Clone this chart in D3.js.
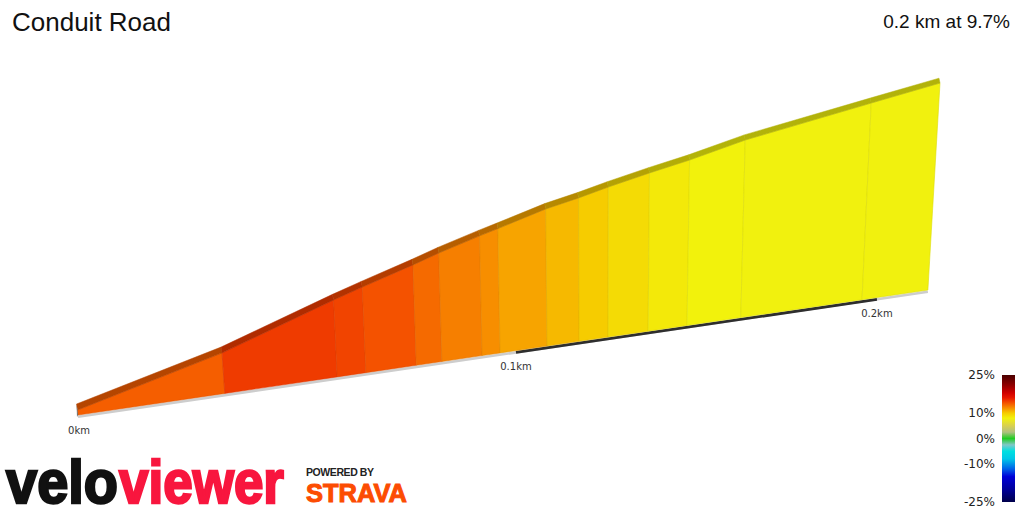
<!DOCTYPE html>
<html>
<head>
<meta charset="utf-8">
<script src="https://cdn.jsdelivr.net/npm/d3@7"></script>
<style>
  body { margin: 0; background: #fff; }
  svg { display: block; }
</style>
</head>
<body>
<svg width="1024" height="512"></svg>
<script>
'use strict'

// segment boundaries along the climb (km) and elevation at each (m)
const distKm = [0, 0.0313, 0.0567, 0.0634, 0.0754, 0.0816, 0.0915, 0.0960, 0.1079, 0.1162, 0.1238, 0.1345, 0.1451, 0.1601, 0.1955, 0.2157]
const elevM = [36.0, 39.1, 42.43, 43.26, 44.69, 45.49, 46.62, 47.1, 48.42, 49.12, 49.85, 50.78, 51.63, 53.04, 55.55, 56.97]
// gradient of each segment (%)
const gradePct = [13.6, 14.8, 14.5, 14.0, 13.2, 12.5, 12.0, 11.3, 10.6, 10.0, 9.2, 8.5, 8.0, 7.9, 7.9]

const kmTicks = [0, 0.1, 0.2]
const kmLabels = ['0km', '0.1km', '0.2km']

const legendTicks = [25, 10, 0, -10, -25]
const legendLabels = ['25%', '10%', '0%', '-10%', '-25%']

const gradeStops = [-25, -20, -15, -12, -8, -5, -2.5, 0, 2.5, 5, 8, 10, 12, 14, 16, 18, 21, 25]
const gradeColors = ['#00004a', '#00009a', '#0000d8', '#0060e8', '#00c8e8', '#00e0e0', '#80c8c8', '#22cc22',
  '#b0c080', '#d8d050', '#f2f20c', '#f6cc00', '#f78e00', '#f45200', '#e81800', '#d00000', '#900000', '#4a0000']

const title = 'Conduit Road'
const summary = '0.2 km at 9.7%'

const svg = d3.select('svg')
const color = d3.scaleLinear().domain(gradeStops).range(gradeColors)

// simple perspective: things further along the climb shrink
const depth = d3.scaleLinear().domain([0, 0.1]).range([0, 484.7])
const ground = d3.scaleLinear().domain([78, 928]).range([415, 290])
const hScale = d3.scaleLinear().domain([36, 56.97]).range([5, 254.6])
const persp = d => 1 / (1 + 1.067 * d)
const vanishX = 600

function basePt (d) {
  const x = 78 + depth(d) * persp(d)
  return [x, ground(x)]
}

function topPt (d, e) {
  const [bx, by] = basePt(d)
  const h = hScale(e) * persp(d)
  return [bx + (bx - vanishX) * h / 5600, by - h]
}

// road surface seen from above, a few px over the top edge
function roadPt (d, e) {
  const [x, y] = topPt(d, e)
  return [x - 1, y - 6 * persp(d)]
}

const line = d3.line()

// base edge
const endKm = distKm[distKm.length - 1]
const shift = p => [p[0], p[1] + 1.8]
svg.append('path')
  .attr('d', line([basePt(0), basePt(endKm)].map(shift)))
  .attr('stroke', '#cdcdcd')
  .attr('stroke-width', 2.6)
  .attr('fill', 'none')
svg.append('path')
  .attr('d', line([basePt(0.1), basePt(0.2)].map(shift)))
  .attr('stroke', '#2e2e2e')
  .attr('stroke-width', 2.8)
  .attr('fill', 'none')

const segments = gradePct.map((g, i) => ({
  g,
  b0: basePt(distKm[i]),
  b1: basePt(distKm[i + 1]),
  t0: topPt(distKm[i], elevM[i]),
  t1: topPt(distKm[i + 1], elevM[i + 1]),
  r0: roadPt(distKm[i], elevM[i]),
  r1: roadPt(distKm[i + 1], elevM[i + 1])
}))

// side faces
svg.append('g').selectAll('path')
  .data(segments)
  .join('path')
  .attr('d', s => line([s.b0, s.b1, s.t1, s.t0]) + 'Z')
  .attr('fill', s => color(s.g))
  .attr('stroke', s => d3.color(color(s.g)).darker(0.25))
  .attr('stroke-width', 0.6)

// road surface strip on top
svg.append('g').selectAll('path')
  .data(segments)
  .join('path')
  .attr('d', s => line([s.t0, s.t1, s.r1, s.r0]) + 'Z')
  .attr('fill', s => d3.color(color(s.g)).darker(0.85))
  .attr('stroke', s => d3.color(color(s.g)).darker(0.85))
  .attr('stroke-width', 0.5)

// start cap
const s0 = segments[0]
svg.append('path')
  .attr('d', line([s0.b0, s0.t0, s0.r0, [s0.b0[0] - 1, s0.b0[1] + 2]]) + 'Z')
  .attr('fill', '#6b6b6b')

// km labels
svg.append('g')
  .attr('font-family', 'DejaVu Sans, sans-serif')
  .attr('font-size', 10)
  .attr('fill', '#333')
  .attr('text-anchor', 'middle')
  .selectAll('text')
  .data(kmTicks)
  .join('text')
  .attr('x', d => basePt(d)[0] + (d === 0 ? 1 : 0))
  .attr('y', d => basePt(d)[1] + 19)
  .text((d, i) => kmLabels[i])

// titles
svg.append('text')
  .attr('x', 12)
  .attr('y', 31)
  .attr('font-family', 'Liberation Sans, Arial, sans-serif')
  .attr('font-size', 26)
  .attr('fill', '#111')
  .text(title)
svg.append('text')
  .attr('x', 1010)
  .attr('y', 28)
  .attr('text-anchor', 'end')
  .attr('font-family', 'Liberation Sans, Arial, sans-serif')
  .attr('font-size', 19)
  .attr('fill', '#111')
  .text(summary)

// gradient legend
const legendY = d3.scaleLinear().domain([25, -25]).range([375, 502])
const grad = svg.append('defs').append('linearGradient')
  .attr('id', 'grade-grad')
  .attr('x1', 0).attr('y1', 0).attr('x2', 0).attr('y2', 1)
grad.selectAll('stop')
  .data(gradeStops.slice().reverse())
  .join('stop')
  .attr('offset', d => (legendY(d) - 375) / 127)
  .attr('stop-color', d => color(d))
svg.append('rect')
  .attr('x', 1002)
  .attr('y', legendY(25))
  .attr('width', 13)
  .attr('height', legendY(-25) - legendY(25))
  .attr('fill', 'url(#grade-grad)')
svg.append('g')
  .attr('font-family', 'DejaVu Sans, sans-serif')
  .attr('font-size', 12)
  .attr('fill', '#222')
  .attr('text-anchor', 'end')
  .selectAll('text')
  .data(legendTicks)
  .join('text')
  .attr('x', 995)
  .attr('y', d => legendY(d) + 4)
  .text((d, i) => legendLabels[i])

// logos
function logoWord (txt, x, len, fill) {
  svg.append('text')
    .attr('x', x)
    .attr('y', 503)
    .attr('font-family', 'Liberation Sans, Arial, sans-serif')
    .attr('font-weight', 'bold')
    .attr('font-size', 62)
    .attr('fill', fill)
    .attr('stroke', fill)
    .attr('stroke-width', 2.5)
    .attr('textLength', len)
    .attr('lengthAdjust', 'spacingAndGlyphs')
    .text(txt)
}
logoWord('velo', 6, 112, '#111')
logoWord('viewer', 119, 165, '#f8163e')

svg.append('text')
  .attr('x', 306)
  .attr('y', 476)
  .attr('font-family', 'Liberation Sans, Arial, sans-serif')
  .attr('font-weight', 'bold')
  .attr('font-size', 10.5)
  .attr('fill', '#222')
  .attr('textLength', 68)
  .attr('lengthAdjust', 'spacing')
  .text('POWERED BY')
svg.append('text')
  .attr('x', 306)
  .attr('y', 502)
  .attr('font-family', 'Liberation Sans, Arial, sans-serif')
  .attr('font-weight', 'bold')
  .attr('font-size', 25)
  .attr('fill', '#fc4c02')
  .attr('stroke', '#fc4c02')
  .attr('stroke-width', 1)
  .attr('textLength', 101)
  .attr('lengthAdjust', 'spacingAndGlyphs')
  .text('STRAVA')
</script>
</body>
</html>
